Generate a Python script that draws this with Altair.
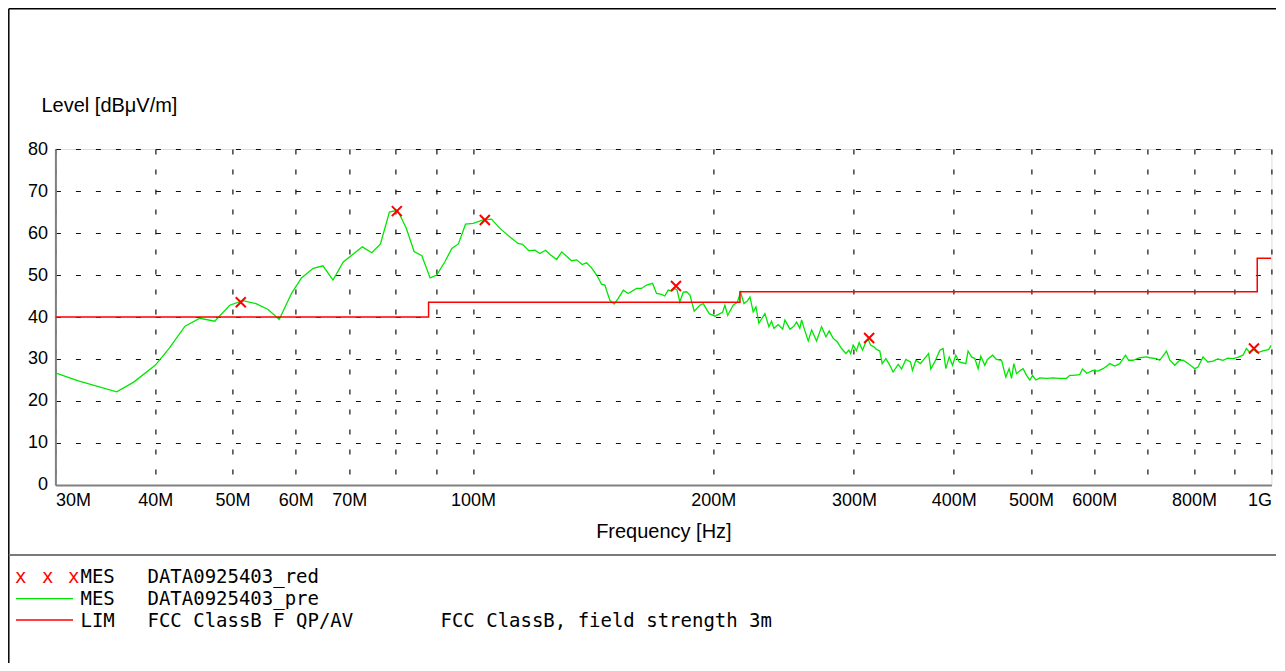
import altair as alt
import pandas as pd

# ---------------- data (MHz, dBµV/m) ----------------
freq_pre = [30.0, 32.05, 35.8, 37.6, 40.0, 41.6, 43.6, 45.5, 47.5, 49.6, 51.5, 53.5, 55.4, 57.2, 59.3,
            61.0, 63.1, 64.9, 66.8, 68.8, 72.7, 74.7, 76.6, 78.6, 79.9, 80.6, 82.5, 84.4, 86.3, 88.4,
            90.1, 92.2, 94.1, 95.9, 97.9, 100.1, 103.0, 105.5, 108.1, 111.2, 113.9, 115.4, 117.5, 119.6,
            121.3, 123.3, 124.9, 127.3, 129.2, 132.9, 134.9, 137.0, 138.8, 140.8, 142.9, 144.9, 146.3,
            148.4, 150.3, 152.0, 154.3, 156.5, 160.3, 162.6, 165.0, 167.9, 169.8, 172.3, 173.9, 175.6,
            177.3, 179.0, 180.2, 181.6, 183.4, 185.2, 187.0, 189.3, 192.4, 194.3, 197.7, 201.0, 203.9,
            205.4, 206.8, 208.5, 211.8, 214.3, 216.4, 218.5, 220.6, 222.3, 224.4, 226.2, 228.1, 232.1,
            234.8, 236.6, 238.2, 241.2, 244.3, 245.9, 249.5, 252.3, 254.3, 256.7, 258.0, 259.9, 263.0,
            265.6, 269.4, 273.3, 276.8, 279.4, 282.6, 285.9, 289.5, 293.2, 295.7, 297.2, 299.4, 302.2,
            304.6, 307.6, 310.6, 312.6, 314.8, 317.8, 320.2, 323.3, 325.5, 329.0, 332.8, 335.9, 340.9,
            344.2, 348.5, 353.2, 355.2, 358.7, 363.5, 367.1, 372.1, 374.5, 378.8, 384.4, 388.0, 391.1,
            394.9, 398.7, 402.5, 406.4, 414.3, 417.0, 421.2, 425.2, 429.3, 432.6, 437.6, 441.0, 447.5,
            452.6, 459.3, 464.9, 469.4, 472.7, 475.8, 479.5, 485.0, 488.7, 493.6, 498.3, 502.2, 507.0,
            512.8, 522.8, 532.9, 542.2, 553.9, 559.2, 564.5, 575.4, 580.0, 587.2, 597.9, 606.1, 615.5,
            622.0, 627.4, 636.5, 645.8, 656.5, 662.7, 671.0, 684.1, 697.5, 704.1, 717.9, 724.7, 738.9,
            746.1, 756.8, 767.9, 775.2, 785.8, 801.7, 809.3, 821.1, 832.4, 845.1, 856.7, 869.8, 881.7,
            895.2, 907.5, 921.4, 930.5, 939.4, 948.5, 958.6, 967.0, 978.3, 985.6, 992.2, 1000.0]
level_pre = [26.7, 24.8, 22.2, 24.5, 28.5, 32.4, 37.8, 39.7, 39.0, 42.8, 43.9, 43.2, 41.8, 39.4, 45.7,
             49.3, 51.6, 52.2, 48.8, 53.1, 56.7, 55.3, 57.4, 65.0, 65.3, 65.1, 61.2, 55.6, 54.6, 49.3,
             50.0, 53.1, 56.3, 57.4, 62.1, 62.3, 63.1, 63.3, 61.1, 59.1, 57.5, 57.3, 55.8, 55.9,
             55.1, 55.9, 54.9, 53.7, 55.5, 53.4, 53.6, 52.5, 52.9, 51.7, 50.0, 47.8, 47.6,
             44.0, 43.1, 44.4, 46.4, 45.6, 46.8, 46.8, 47.6, 48.0, 45.6, 45.4, 45.0, 46.4,
             46.2, 46.8, 46.4, 43.6, 45.9, 46.0, 45.2, 41.4, 42.8, 43.2, 40.8, 40.2, 40.8,
             41.1, 42.8, 40.4, 42.8, 43.5, 45.9, 43.2, 43.8, 44.8, 41.2, 42.4, 38.5, 40.8,
             37.7, 39.0, 37.3, 38.2, 37.1, 39.3, 37.1, 37.8, 38.8, 37.3, 39.3, 37.3, 34.3,
             36.9, 34.3, 37.7, 35.3, 36.7, 34.9, 34.1, 32.5, 31.3, 32.1, 31.3, 33.3, 32.0,
             33.9, 32.1, 34.1, 34.7, 33.3, 32.9, 32.3, 31.9, 28.9, 30.1, 28.5, 26.9, 28.7,
             27.6, 29.9, 29.3, 27.3, 29.7, 28.9, 29.9, 31.3, 27.6, 29.3, 32.1, 32.5, 27.7,
             30.5, 28.5, 30.9, 29.3, 28.9, 31.9, 30.5, 30.1, 27.7, 30.7, 28.5, 29.9, 30.9,
             29.9, 29.7, 25.7, 27.7, 25.4, 28.9, 26.5, 27.3, 27.7, 26.1, 25.0, 26.1, 25.0,
             25.5, 25.4, 25.5, 25.4, 25.4, 26.1, 26.1, 26.3, 27.6, 26.6, 27.3, 27.1, 27.7,
             28.3, 28.9, 28.3, 28.9, 30.9, 29.7, 29.7, 30.3, 30.5, 30.3, 30.1, 29.7, 31.9,
             29.7, 28.5, 29.7, 29.7, 29.0, 27.7, 28.1, 30.5, 29.3, 29.5, 30.0, 29.7, 30.2,
             30.1, 30.4, 30.9, 32.5, 31.6, 32.3, 31.6, 31.7, 32.0, 32.1, 32.3, 33.3]

lim_freq = [30, 88, 216, 960, 1000]
lim_level = [40, 43.5, 46, 54, 54]

peak_freq = [51.2, 80.3, 103.5, 179.6, 313.5, 951.0]
peak_level = [43.5, 65.2, 63.1, 47.4, 35.0, 32.5]

x_ticks = [30, 40, 50, 60, 70, 80, 90, 100, 200, 300, 400, 500, 600, 700, 800, 900, 1000]
y_ticks = [0, 10, 20, 30, 40, 50, 60, 70, 80]

legend_rows = [
    ["MES", "DATA0925403_red", ""],
    ["MES", "DATA0925403_pre", ""],
    ["LIM", "FCC ClassB F QP/AV", "FCC ClassB, field strength 3m"],
]

# ---------------- chart ----------------
W, H = 1216, 336
SANS = "Liberation Sans"
LEG = "DejaVu Sans Mono"
LEG_SIZE = 19

label_expr = ("datum.value >= 1000 ? '1G' : "
              "(datum.value == 80 || datum.value == 90 || datum.value == 700 || datum.value == 900) ? '' : "
              "datum.value + 'M'")

x_enc = alt.X(
    "f:Q",
    scale=alt.Scale(type="log", domain=[30, 1000], nice=False),
    axis=alt.Axis(values=x_ticks, labelExpr=label_expr, labelFlush=True, labelOverlap=False,
                  ticks=False, tickSize=0, grid=True, gridDash=[5, 15], gridColor="#111",
                  gridWidth=1.2, gridOpacity=1, domainColor="#808080", domainWidth=2,
                  labelPadding=7, labelFont=SANS, labelFontSize=18, labelColor="black",
                  title="Frequency [Hz]", titleFont=SANS, titleFontSize=20, titleFontWeight="normal",
                  titleColor="black", titleY=53, titleBaseline="alphabetic"),
)
y_enc = alt.Y(
    "L:Q",
    scale=alt.Scale(domain=[0, 80], nice=False),
    axis=alt.Axis(values=y_ticks, ticks=False, tickSize=0, grid=True, gridDash=[5, 15],
                  gridColor="#111", gridWidth=1.2, gridOpacity=1, domainColor="#808080",
                  domainWidth=2, labelPadding=8, labelFont=SANS, labelFontSize=18,
                  labelColor="black", title="Level [dBμV/m]", titleFont=SANS, titleFontSize=20,
                  titleFontWeight="normal", titleColor="black", titleAngle=0, titleAlign="left",
                  titleBaseline="alphabetic", titleX=-14.4, titleY=-38),
)

pre_df = pd.DataFrame({"f": freq_pre, "L": level_pre})
lim_df = pd.DataFrame({"f": lim_freq, "L": lim_level})
peak_df = pd.DataFrame({"f": peak_freq, "L": peak_level})

pre = alt.Chart(pre_df).mark_line(color="#00e600", strokeWidth=1.3, clip=True).encode(x=x_enc, y=y_enc)
lim = alt.Chart(lim_df).mark_line(color="#ff0000", strokeWidth=1.5, interpolate="step-after",
                                   clip=True).encode(x=x_enc, y=y_enc)
peaks = alt.Chart(peak_df).mark_point(shape="M-1,-1L1,1M1,-1L-1,1", size=100, color="#ff0000",
                                      strokeWidth=2, filled=False, opacity=1).encode(x=x_enc, y=y_enc)

dummy = pd.DataFrame({"d": [0]})


def txt(s, x, y, color="black", size=LEG_SIZE, font=LEG):
    return alt.Chart(pd.DataFrame({"t": [s]})).mark_text(
        align="left", baseline="alphabetic", font=font, fontSize=size, color=color
    ).encode(x=alt.value(x), y=alt.value(y), text="t:N")


def rule(x, x2, y, y2, color, width):
    return alt.Chart(dummy).mark_rule(color=color, strokeWidth=width).encode(
        x=alt.value(x), x2=alt.value(x2), y=alt.value(y), y2=alt.value(y2))


deco = [
    rule(-46.6, -46.6, -140.3, 520, "black", 1.5),      # frame left
    rule(-46.6, 1240, -140.3, -140.3, "black", 1.5),    # frame top
    rule(-46.6, 1240, 406, 406, "#7a7a7a", 2),          # separator
    rule(-39.4, 17.6, 449.7, 449.7, "#00e600", 1.3),    # legend green line
    rule(-39.4, 17.6, 471, 471, "#ff0000", 1.3),        # legend red line
    txt("x", -40.4, 434, color="#ff0000"),
    txt("x", -13.4, 434, color="#ff0000"),
    txt("x", 12.6, 434, color="#ff0000"),
]
row_y = [434, 456, 478.3]
col_x = [25.1, 92.1, 385.1]
for r, yy in zip(legend_rows, row_y):
    for s, xx in zip(r, col_x):
        if s:
            deco.append(txt(s, xx, yy))

chart = alt.layer(pre, lim, peaks, *deco).properties(
    width=W, height=H, autosize=alt.AutoSizeParams(type="none"),
    padding={"left": 47.4, "top": 141, "right": 5, "bottom": 178},
).configure_view(stroke=None).configure(background="white")

chart.save("out.html", embed_options={"renderer": "svg", "actions": False})
